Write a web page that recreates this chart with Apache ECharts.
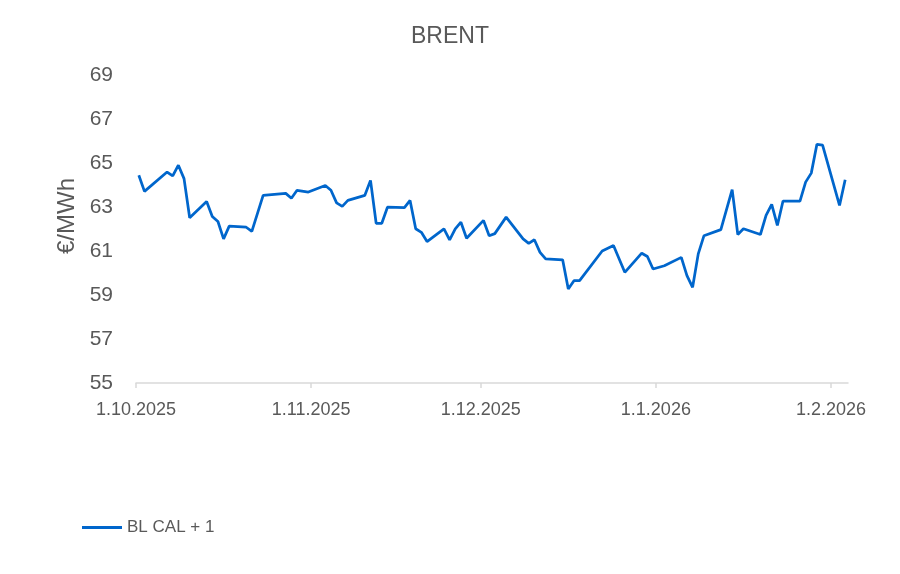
<!DOCTYPE html>
<html>
<head>
<meta charset="utf-8">
<title>BRENT</title>
<script src="https://cdn.jsdelivr.net/npm/echarts@6/dist/echarts.min.js"></script>
<style>
  html, body { margin: 0; padding: 0; background: #fff; }
  #main { width: 900px; height: 574px; }
</style>
</head>
<body>
<div id="main"></div>
<script>
// trading days shown in the chart
var dates = [
  "2025-10-01", "2025-10-02", "2025-10-06", "2025-10-07", "2025-10-08", "2025-10-09", "2025-10-10",
  "2025-10-13", "2025-10-14", "2025-10-15", "2025-10-16", "2025-10-17",
  "2025-10-20", "2025-10-21", "2025-10-23",
  "2025-10-27", "2025-10-28", "2025-10-29", "2025-10-31",
  "2025-11-03", "2025-11-04", "2025-11-05", "2025-11-06", "2025-11-07",
  "2025-11-10", "2025-11-11", "2025-11-12", "2025-11-13", "2025-11-14",
  "2025-11-17", "2025-11-18", "2025-11-19", "2025-11-20", "2025-11-21",
  "2025-11-24", "2025-11-25", "2025-11-26", "2025-11-27", "2025-11-28",
  "2025-12-01", "2025-12-02", "2025-12-03", "2025-12-05",
  "2025-12-08", "2025-12-09", "2025-12-10", "2025-12-11", "2025-12-12",
  "2025-12-15", "2025-12-16", "2025-12-17", "2025-12-18",
  "2025-12-22", "2025-12-24", "2025-12-26",
  "2025-12-29", "2025-12-30", "2025-12-31", "2026-01-02",
  "2026-01-05", "2026-01-06", "2026-01-07", "2026-01-08", "2026-01-09",
  "2026-01-12", "2026-01-14", "2026-01-15", "2026-01-16",
  "2026-01-19", "2026-01-20", "2026-01-21", "2026-01-22", "2026-01-23",
  "2026-01-26", "2026-01-27", "2026-01-28", "2026-01-29", "2026-01-30",
  "2026-02-02", "2026-02-03"
];

// BL CAL + 1, €/MWh
var blCal1 = [
  64.44, 63.71, 64.59, 64.41, 64.90, 64.29, 62.51,
  63.25, 62.57, 62.34, 61.55, 62.13,
  62.08, 61.89, 63.53,
  63.62, 63.40, 63.76, 63.68,
  63.98, 63.76, 63.19, 63.03, 63.30,
  63.53, 64.21, 62.26, 62.26, 62.99,
  62.97, 63.30, 62.01, 61.85, 61.43,
  62.01, 61.51, 62.01, 62.31, 61.58,
  62.39, 61.69, 61.79, 62.54,
  61.55, 61.35, 61.51, 60.94, 60.64,
  60.60, 59.27, 59.65, 59.65,
  61.00, 61.25, 60.03,
  60.90, 60.75, 60.18, 60.33,
  60.71, 59.88, 59.35, 60.87, 61.69,
  61.97, 63.79, 61.75, 62.01,
  61.75, 62.62, 63.12, 62.16, 63.27,
  63.27, 64.13, 64.54, 65.85, 65.81,
  63.07, 64.24
];

// month ticks on the x axis
var tickDates = ["2025-10-01", "2025-11-01", "2025-12-01", "2026-01-01", "2026-02-01"];
var axisStart = "2025-10-01";
var axisEnd = "2026-02-04";

var yMin = 55, yMax = 69, yStep = 2;

function toTime(s, hour) {
  var p = s.split("-");
  return new Date(+p[0], +p[1] - 1, +p[2], hour || 0).getTime();
}

// Excel puts the points in the middle of the day
var seriesData = dates.map(function (d, i) {
  return [toTime(d, 12), blCal1[i]];
});
var tickValues = tickDates.map(function (d) { return toTime(d); });

var textColor = "#595959";
var fontFamily = "'Liberation Sans', Arial, sans-serif";

var chart = echarts.init(document.getElementById("main"));
chart.setOption({
  animation: false,
  title: {
    text: "BRENT",
    left: "center",
    top: 20,
    textStyle: { color: textColor, fontSize: 23, fontWeight: "normal", fontFamily: fontFamily }
  },
  legend: {
    left: 77,
    top: 514,
    icon: "rect",
    itemWidth: 40,
    itemHeight: 3,
    textStyle: { color: textColor, fontSize: 17, fontFamily: fontFamily },
    data: ["BL CAL + 1"]
  },
  grid: { left: 136, right: 52, top: 75, bottom: 191 },
  graphic: [{
    type: "text",
    left: 55,
    top: 178,
    rotation: Math.PI / 2,
    style: { text: "€/MWh", fill: textColor, font: "24px " + fontFamily }
  }],
  xAxis: {
    // dates kept as timestamps on a value axis so the month ticks can be set
    type: "value",
    min: toTime(axisStart),
    max: toTime(axisEnd),
    splitLine: { show: false },
    axisLine: { lineStyle: { color: "#d9d9d9", width: 1.5 } },
    axisTick: { show: true, customValues: tickValues, length: 5, lineStyle: { color: "#d9d9d9", width: 1.5 } },
    axisLabel: {
      customValues: tickValues,
      margin: 18,
      color: textColor,
      fontSize: 18,
      fontFamily: fontFamily,
      formatter: function (v) {
        var d = new Date(v);
        return d.getDate() + "." + (d.getMonth() + 1) + "." + d.getFullYear();
      }
    }
  },
  yAxis: {
    type: "value",
    min: yMin,
    max: yMax,
    interval: yStep,
    axisLine: { show: false },
    axisTick: { show: false },
    splitLine: { show: false },
    axisLabel: { margin: 23, color: textColor, fontSize: 21, fontFamily: fontFamily }
  },
  series: [{
    name: "BL CAL + 1",
    type: "line",
    data: seriesData,
    showSymbol: false,
    symbol: "none",
    color: "#0066cc",
    lineStyle: { width: 2.75, color: "#0066cc" }
  }]
});
</script>
</body>
</html>
